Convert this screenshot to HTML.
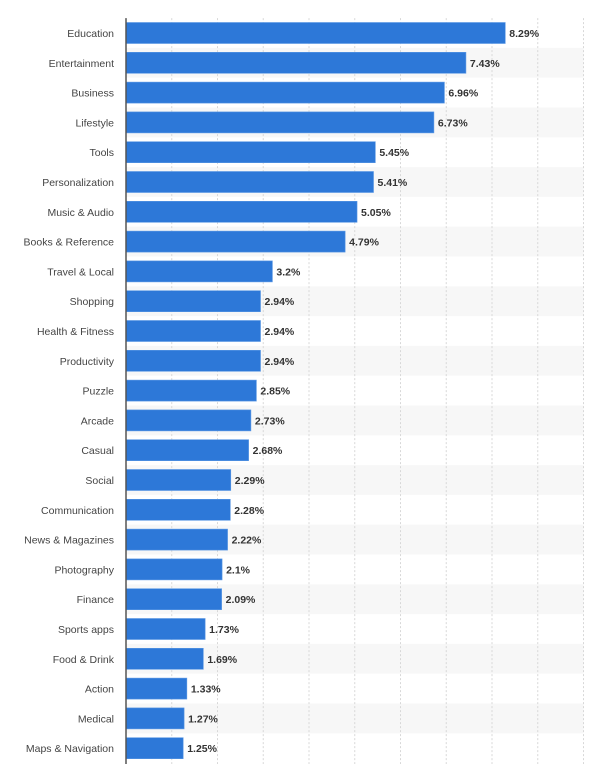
<!DOCTYPE html>
<html><head><meta charset="utf-8"><style>
body{margin:0;background:#fff;}
svg{display:block;font-family:"Liberation Sans",sans-serif;}
</style></head><body>
<svg id="chart" width="610" height="764"></svg>
<script>
const categories=["Education","Entertainment","Business","Lifestyle","Tools","Personalization","Music & Audio","Books & Reference","Travel & Local","Shopping","Health & Fitness","Productivity","Puzzle","Arcade","Casual","Social","Communication","News & Magazines","Photography","Finance","Sports apps","Food & Drink","Action","Medical","Maps & Navigation"];
const values=[8.29,7.43,6.96,6.73,5.45,5.41,5.05,4.79,3.2,2.94,2.94,2.94,2.85,2.73,2.68,2.29,2.28,2.22,2.1,2.09,1.73,1.69,1.33,1.27,1.25];
const xTicks=[0,1,2,3,4,5,6,7,8,9,10];
const NS="http://www.w3.org/2000/svg";
const svg=document.getElementById('chart');
const x0=126,pxPer=45.75,top0=18.1,step=29.8;
const xs=v=>x0+v*pxPer;
const yc=i=>top0+step*(i+0.5);
function mk(t,a){const e=document.createElementNS(NS,t);for(const k in a)e.setAttribute(k,a[k]);svg.appendChild(e);return e;}
categories.forEach((c,i)=>{if(i%2===1){const r=mk('rect',{x:x0,y:yc(i)-step/2,width:xs(10)-x0,height:step,fill:'#f7f7f7'});

}});
xTicks.forEach(t=>{if(t===0)return;const l=mk('line',{x1:xs(t),x2:xs(t),y1:top0,y2:764,stroke:'#d8d8d8','stroke-dasharray':'2,2','stroke-width':1});

});
categories.forEach((c,i)=>{
const y=yc(i);
const b=mk('rect',{x:x0,y:y-10.5,width:xs(values[i])-x0,height:21,fill:'#2d78d8',stroke:'#5b98e4','stroke-width':0.6});


const lb=mk('text',{x:114,y:y+4,'text-anchor':'end','font-size':'10.5',fill:'#444'});lb.textContent=c;


const v=mk('text',{x:xs(values[i])+4,y:y+4,'font-size':'10.5','font-weight':'bold',fill:'#333'});v.textContent=values[i]+'%';


});
const ax=mk('line',{x1:x0,x2:x0,y1:top0,y2:764,stroke:'#555','stroke-width':1.5});


</script>
</body></html>
